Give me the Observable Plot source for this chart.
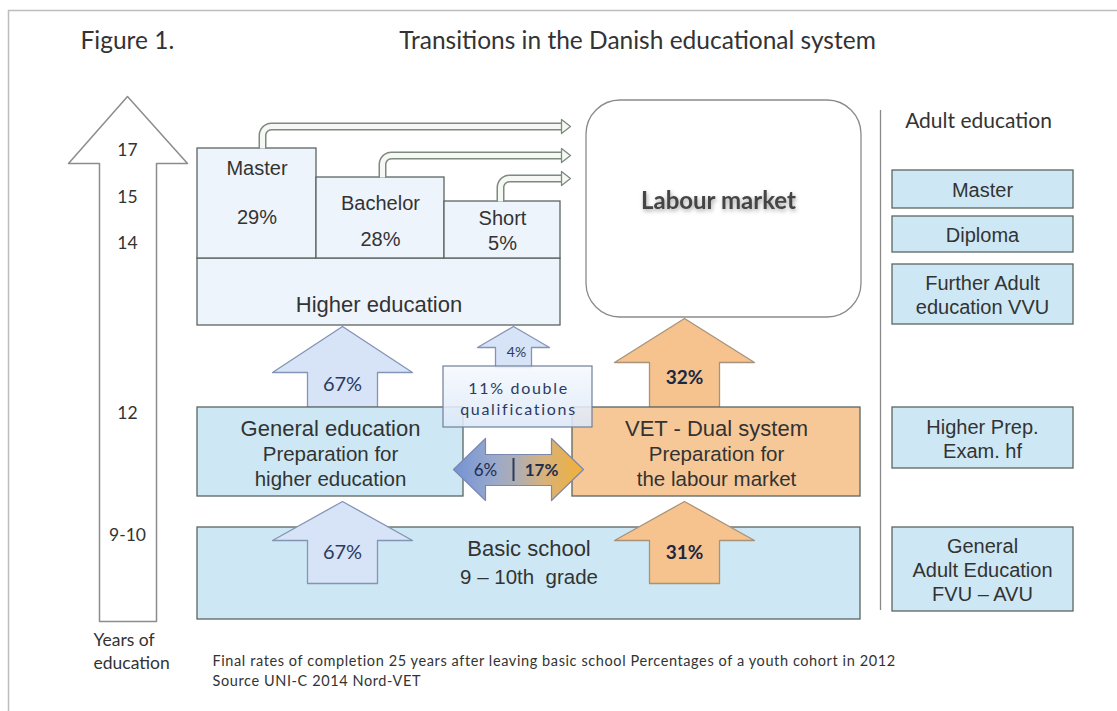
<!DOCTYPE html>
<html><head><meta charset="utf-8">
<script src="https://cdn.jsdelivr.net/npm/d3@7"></script>
<script src="https://cdn.jsdelivr.net/npm/@observablehq/plot@0.6"></script>
<style>body{margin:0;background:#fff;}</style>
</head><body><div id="chart"></div>
<script>
// ---------------- data ----------------
const figureLabel = "Figure 1.";
const chartTitle = "Transitions in the Danish educational system";
const yearTicks = ["17", "15", "14", "12", "9-10"];
const yearAxisLabel = "Years of\neducation";
const higherLevels = ["Master", "Bachelor", "Short"];
const higherShares = [29, 28, 5];
const higherTitle = "Higher education";
const stageNames = ["General education", "VET - Dual system", "Basic school"];
const stageSubtitles = ["Preparation for\nhigher education", "Preparation for\nthe labour market", "9 – 10th  grade"];
const flowNames = ["Basic → General", "General → Higher", "Basic → VET", "VET → Labour", "Double → Higher"];
const flowShares = [67, 67, 31, 32, 4];
const doubleQualShare = 11;
const crossShares = [6, 17];
const labourMarket = "Labour market";
const adultTitle = "Adult education";
const adultPrograms = ["Master", "Diploma", "Further Adult\neducation VVU", "Higher Prep.\nExam. hf", "General\nAdult Education\nFVU – AVU"];
const footnotes = ["Final rates of completion 25 years after leaving basic school Percentages of a youth cohort in 2012", "Source UNI-C 2014 Nord-VET"];

// ---------------- layout (pixel positions of the diagram) ----------------
const W = 1117, H = 711;
const calibri = "Lato, 'Open Sans', sans-serif";
const arial = "'Liberation Sans', Arial, sans-serif";
const boxStroke = "#5b6660";
const cyan = "#cde8f4";
const orange = "#f6c898";
const textColor = "#333";
const yearTickY = [150, 197, 243, 413, 535];
const higherPieces = [
  {x1: 197, x2: 316, y1: 148, tY: 168, pY: 217, pipeX: 262, pipeY: 126},
  {x1: 316, x2: 444, y1: 177, tY: 203, pY: 239, pipeX: 382, pipeY: 155},
  {x1: 444, x2: 560, y1: 201, tY: 218, pY: 243, pipeX: 500, pipeY: 178}
];
const higherBase = {x1: 197, x2: 560, y1: 258, y2: 325};
const stageBoxes = [
  {x1: 197, x2: 463, y1: 407, y2: 496, fill: cyan, tY: 428, sY: 465},
  {x1: 572, x2: 860, y1: 407, y2: 496, fill: orange, tY: 428, sY: 465},
  {x1: 197, x2: 860, y1: 527, y2: 619, fill: cyan, tY: 548, sY: 576}
];
const flowArrows = [
  {cx: 342, tip: 501, base: 540, bottom: 583, hw: 70, sw: 35, tY: 552},
  {cx: 342, tip: 326, base: 372, bottom: 407, hw: 70, sw: 35, tY: 384},
  {cx: 684, tip: 501, base: 540, bottom: 583, hw: 70, sw: 35, tY: 552},
  {cx: 684, tip: 318, base: 362, bottom: 407, hw: 70, sw: 35, tY: 377},
  {cx: 513, tip: 326, base: 347, bottom: 367, hw: 36, sw: 18, tY: 352}
];
const flowColor = ["blue", "blue", "orange", "orange", "blue"];
const adultBoxes = [
  {y1: 170, y2: 208}, {y1: 216, y2: 252}, {y1: 264, y2: 324}, {y1: 407, y2: 468}, {y1: 527, y2: 611}
];

// ---------------- geometry helpers ----------------
function upArrow(a, id) {
  return [
    [a.cx, a.tip], [a.cx + a.hw, a.base], [a.cx + a.sw, a.base], [a.cx + a.sw, a.bottom],
    [a.cx - a.sw, a.bottom], [a.cx - a.sw, a.base], [a.cx - a.hw, a.base]
  ].map(([x, y]) => ({x, y, id}));
}
function pipePath(p, i, endX) {
  const r = 9, pts = [{x: p.pipeX, y: p.y1, id: i}];
  for (let k = 0; k <= 8; k++) {
    const t = Math.PI + (k / 8) * Math.PI / 2;
    pts.push({x: p.pipeX + r + r * Math.cos(t), y: p.pipeY + r + r * Math.sin(t), id: i});
  }
  pts.push({x: endX, y: p.pipeY, id: i});
  return pts;
}
function pipeHead(p, i, endX) {
  return [[endX, p.pipeY - 7], [endX + 9, p.pipeY], [endX, p.pipeY + 7]].map(([x, y]) => ({x, y, id: i}));
}

const bigArrow = [[127, 96], [187, 163], [156, 163], [156, 621], [99, 621], [99, 163], [68, 163]].map(([x, y]) => ({x, y}));
const blueArrows = flowArrows.flatMap((a, i) => flowColor[i] === "blue" ? upArrow(a, i) : []);
const orangeArrows = flowArrows.flatMap((a, i) => flowColor[i] === "orange" ? upArrow(a, i) : []);
const pipes = higherPieces.flatMap((p, i) => pipePath(p, i, 561));
const pipeHeads = higherPieces.flatMap((p, i) => pipeHead(p, i, 561));
const dblArrow = [[453, 469], [485, 438], [485, 454], [551, 454], [551, 438], [583, 469], [551, 500], [551, 485], [485, 485], [485, 500]].map(([x, y]) => ({x, y}));

function defs() {
  const ns = "http://www.w3.org/2000/svg";
  const d = document.createElementNS(ns, "defs");
  d.innerHTML = `
    <linearGradient id="dblGrad" x1="0" x2="1" y1="0" y2="0">
      <stop offset="0" stop-color="#7493d4"/>
      <stop offset="0.3" stop-color="#98a8cc"/>
      <stop offset="0.5" stop-color="#b0aeb0"/>
      <stop offset="0.7" stop-color="#d8b27a"/>
      <stop offset="1" stop-color="#f2b038"/>
    </linearGradient>
    <linearGradient id="dqGrad" x1="0" x2="0" y1="0" y2="1">
      <stop offset="0" stop-color="#f6f9fe"/>
      <stop offset="1" stop-color="#dce8f7"/>
    </linearGradient>`;
  return d;
}

const adultText = adultPrograms.map((t, i) => ({t, y: (adultBoxes[i].y1 + adultBoxes[i].y2) / 2}));
const flowIdx = flowShares.map((v, i) => i);
const blueFlow = flowIdx.filter(i => flowColor[i] === "blue" && i !== 4);
const orangeFlow = flowIdx.filter(i => flowColor[i] === "orange");

const chart = Plot.plot({
  width: W, height: H,
  margin: 0,
  x: {domain: [0, W], range: [0, W], axis: null},
  y: {domain: [0, H], range: [0, H], axis: null},
  style: {background: "#fff"},
  marks: [
    defs,
    // frame
    Plot.ruleY([10], {x1: 8, x2: W, stroke: "#bdbdbd", strokeWidth: 1.5}),
    Plot.ruleX([8], {y1: 10, y2: H, stroke: "#bdbdbd", strokeWidth: 1.5}),
    // titles
    Plot.text([figureLabel], {x: 80, y: 41, text: d => d, textAnchor: "start", fontSize: 24.5, fontFamily: calibri, fill: textColor}),
    Plot.text([chartTitle], {x: 637, y: 41, text: d => d, fontSize: 24.5, fontFamily: calibri, fill: textColor}),
    // years of education arrow
    Plot.line(bigArrow, {x: "x", y: "y", curve: "linear-closed", fill: "#fff", stroke: "#8c8c8c", strokeWidth: 1.5}),
    Plot.text(yearTicks, {x: 127, y: (d, i) => yearTickY[i], text: d => d, fontSize: 17.5, fontFamily: calibri, fill: textColor}),
    Plot.text([yearAxisLabel], {x: 93, y: 650, text: d => d, textAnchor: "start", lineAnchor: "middle", lineHeight: 1.3, fontSize: 17.5, fontFamily: calibri, fill: textColor}),
    // higher education
    Plot.rect([higherBase], {x1: "x1", x2: "x2", y1: "y1", y2: "y2", fill: "#eef4fb", stroke: boxStroke, strokeWidth: 1.3}),
    Plot.rect(higherPieces, {x1: "x1", x2: "x2", y1: "y1", y2: () => higherBase.y1, fill: "#eef4fb", stroke: boxStroke, strokeWidth: 1.3}),
    Plot.line(pipes, {x: "x", y: "y", z: "id", stroke: "#7d8a80", strokeWidth: 8, strokeLinecap: "butt"}),
    Plot.line(pipes, {x: "x", y: "y", z: "id", stroke: "#f6f9f3", strokeWidth: 5, strokeLinecap: "butt"}),
    Plot.line(pipeHeads, {x: "x", y: "y", z: "id", curve: "linear-closed", fill: "#f6f9f3", stroke: "#7d8a80", strokeWidth: 1.3}),
    Plot.text(higherLevels, {x: (d, i) => (higherPieces[i].x1 + higherPieces[i].x2) / 2, y: (d, i) => higherPieces[i].tY, text: d => d, fontSize: 20, fontFamily: arial, fill: textColor}),
    Plot.text(higherShares, {x: (d, i) => (higherPieces[i].x1 + higherPieces[i].x2) / 2, y: (d, i) => higherPieces[i].pY, text: d => d + "%", fontSize: 20, fontFamily: arial, fill: textColor}),
    Plot.text([higherTitle], {x: (higherBase.x1 + higherBase.x2) / 2, y: 304, text: d => d, fontSize: 22, fontFamily: arial, fill: textColor}),
    // labour market
    Plot.rect([0], {x1: 586, x2: 861, y1: 100, y2: 317, rx: 34, fill: "#fff", stroke: "#8a8a8a", strokeWidth: 1.3}),
    Plot.text([labourMarket], {x: 718, y: 201, text: d => d, fontSize: 24, fontWeight: "bold", fontFamily: calibri, fill: "#454545", ariaDescription: "labour"}),
    // arrows between stages (upper)
    Plot.line(blueArrows.filter(d => d.id === 1 || d.id === 4), {x: "x", y: "y", z: "id", curve: "linear-closed", fill: "#d7e3f6", stroke: "#8494b4", strokeWidth: 1.3}),
    Plot.line(orangeArrows.filter(d => d.id === 3), {x: "x", y: "y", z: "id", curve: "linear-closed", fill: "#f6c38e", stroke: "#a8937a", strokeWidth: 1.3}),
    // stage boxes
    Plot.rect(stageBoxes, {x1: "x1", x2: "x2", y1: "y1", y2: "y2", fill: "fill", stroke: boxStroke, strokeWidth: 1.3}),
    // arrows from basic school
    Plot.line(blueArrows.filter(d => d.id === 0), {x: "x", y: "y", z: "id", curve: "linear-closed", fill: "#d7e3f6", stroke: "#8494b4", strokeWidth: 1.3}),
    Plot.line(orangeArrows.filter(d => d.id === 2), {x: "x", y: "y", z: "id", curve: "linear-closed", fill: "#f6c38e", stroke: "#a8937a", strokeWidth: 1.3}),
    // double qualification box
    Plot.rect([doubleQualShare], {x1: 443, x2: 592, y1: 366, y2: 427, fill: "url(#dqGrad)", fillOpacity: 0.88, stroke: "#6f7f99", strokeWidth: 1.2}),
    Plot.text([doubleQualShare], {x: 518, y: 397, text: d => `${d}% double\nqualifications`, lineAnchor: "middle", lineHeight: 1.35, fontSize: 16, fontFamily: calibri, fill: "#2b3b5e", ariaDescription: "dq"}),
    // cross arrow
    Plot.line(dblArrow, {x: "x", y: "y", curve: "linear-closed", fill: "url(#dblGrad)", stroke: "#7a88b0", strokeWidth: 1.2}),
    Plot.ruleX([513], {y1: 458, y2: 481, stroke: "#2b3b5e", strokeWidth: 2}),
    Plot.text([crossShares[0]], {x: 485, y: 470, text: d => d + "%", fontSize: 17, fontFamily: calibri, fill: "#1f2d50"}),
    Plot.text([crossShares[1]], {x: 541, y: 470, text: d => d + "%", fontSize: 17, fontWeight: "bold", fontFamily: calibri, fill: "#1f2d50"}),
    // stage texts
    Plot.text(stageNames, {x: (d, i) => (stageBoxes[i].x1 + stageBoxes[i].x2) / 2, y: (d, i) => stageBoxes[i].tY, text: d => d, fontSize: 22, fontFamily: arial, fill: textColor}),
    Plot.text(stageSubtitles, {x: (d, i) => (stageBoxes[i].x1 + stageBoxes[i].x2) / 2, y: (d, i) => stageBoxes[i].sY, text: d => d, lineAnchor: "middle", lineHeight: 1.2, fontSize: 20.5, fontFamily: arial, fill: textColor}),
    // flow percentages
    Plot.text(blueFlow, {x: i => flowArrows[i].cx, y: i => flowArrows[i].tY, text: i => flowShares[i] + "%", fontSize: 20, fontFamily: calibri, fill: "#2b3b5e"}),
    Plot.text(orangeFlow, {x: i => flowArrows[i].cx, y: i => flowArrows[i].tY, text: i => flowShares[i] + "%", fontSize: 19, fontWeight: "bold", fontFamily: calibri, fill: "#1c2742"}),
    Plot.text([4], {x: i => flowArrows[i].cx + 3, y: i => flowArrows[i].tY, text: i => flowShares[i] + "%", fontSize: 14, fontFamily: calibri, fill: "#2b3b5e"}),
    // adult education
    Plot.ruleX([880], {y1: 110, y2: 610, stroke: "#8a8a8a", strokeWidth: 1.3}),
    Plot.text([adultTitle], {x: 978, y: 121, text: d => d, fontSize: 21, fontFamily: calibri, fill: textColor}),
    Plot.rect(adultBoxes, {x1: 892, x2: 1073, y1: "y1", y2: "y2", fill: cyan, stroke: boxStroke, strokeWidth: 1.3}),
    Plot.text(adultText, {x: 982, y: "y", text: "t", lineAnchor: "middle", lineHeight: 1.2, fontSize: 20, fontFamily: arial, fill: textColor}),
    // footnotes
    Plot.text(footnotes, {x: 212, y: (d, i) => 661 + i * 20, text: d => d, textAnchor: "start", fontSize: 14.5, fontFamily: calibri, fill: textColor, ariaDescription: "foot"})
  ]
});
document.getElementById("chart").appendChild(chart);
const sel = (desc) => d3.select(chart).selectAll(`g[aria-description="${desc}"] text`);
sel("labour").style("filter", "drop-shadow(1px 2px 2px rgba(0,0,0,0.35))");
sel("dq").attr("letter-spacing", "1.7px");
sel("foot").attr("letter-spacing", "0.6px");
</script></body></html>
